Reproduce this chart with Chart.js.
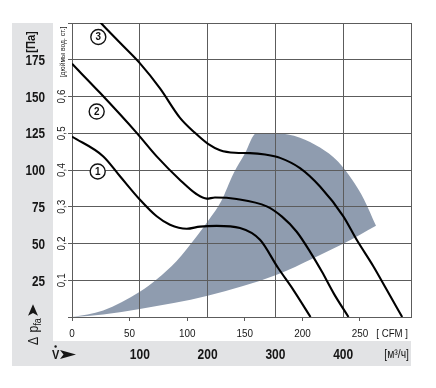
<!DOCTYPE html>
<html><head><meta charset="utf-8">
<script src="https://cdn.jsdelivr.net/npm/chart.js@4.4.1/dist/chart.umd.min.js"></script>
<style>html,body{margin:0;padding:0;background:#fff}canvas{display:block}</style>
</head><body>
<canvas id="c" width="436" height="388"></canvas>
<script>
// ---- data (flow in m³/h, pressure in inch water column) ----
const curve1Flow  = [0, 46.2, 70.8, 100.3, 124.9, 144.5, 169.2, 188.8, 213.4, 247.8, 277.3, 303.8, 326.4, 351.8];
const curve1Press = [0.491, 0.437, 0.383, 0.319, 0.274, 0.251, 0.240, 0.246, 0.248, 0.242, 0.210, 0.134, 0.074, 0];
const curve2Flow  = [0, 41.3, 95.4, 124.9, 159.3, 183.9, 198.7, 210.9, 242.9, 287.2, 309.7, 331.4, 351.0, 368.7, 386.4, 407.8];
const curve2Press = [0.689, 0.610, 0.501, 0.437, 0.373, 0.334, 0.322, 0.325, 0.321, 0.301, 0.273, 0.232, 0.178, 0.123, 0.063, 0];
const curve3Flow  = [40, 70.8, 100.3, 129.8, 159.3, 181.4, 200.6, 218.3, 240.4, 262.5, 284.7, 306.8, 336.3, 365.8, 400.2, 419.9, 444.4, 464.2, 487];
const curve3Press = [0.805, 0.746, 0.690, 0.622, 0.542, 0.501, 0.471, 0.454, 0.447, 0.446, 0.442, 0.433, 0.405, 0.355, 0.274, 0.210, 0.138, 0.074, 0];
// operating range (shaded area): upper and lower outline
const rangeUpperFlow  = [0, 46, 100, 125, 154, 184, 204, 220, 238, 255, 272, 300.9, 336.3, 365.8, 392.3, 413, 430.7, 448.4];
const rangeUpperPress = [0, 0.018, 0.069, 0.103, 0.152, 0.220, 0.270, 0.315, 0.390, 0.445, 0.500, 0.500, 0.488, 0.461, 0.423, 0.374, 0.320, 0.248];
const rangeLowerFlow  = [0, 46, 100, 200, 302, 356, 400, 448.4];
const rangeLowerPress = [0, 0.007, 0.022, 0.058, 0.115, 0.160, 0.199, 0.248];
// curve number markers (data coordinates)
const markerText  = ['1', '2', '3'];
const markerFlow  = [37.9, 36.4, 38.8];
const markerPress = [0.396, 0.559, 0.762];
// axis tick labels
const inchTickValues = [0.1, 0.2, 0.3, 0.4, 0.5, 0.6];
const inchTickLabels = ['0,1', '0,2', '0,3', '0,4', '0,5', '0,6'];
const paTickValues = [25, 50, 75, 100, 125, 150, 175];
const m3hTickValues = [100, 200, 300, 400];
const cfmTickValues = [0, 50, 100, 150, 200, 250];
const PA_PER_INCH = 249.089;
const M3H_PER_CFM = 1.699;

const SANS = "'Liberation Sans', Arial, sans-serif";
const BAND = '#e2e3e5';
const GRID = '#5c5c5c';
const SHADE = '#8f9caf';
const INK = '#161616';

const pts = (xs, ys) => xs.map((x, i) => ({x, y: ys[i]}));

function dart(ctx, x, y, len, half) { // arrow pointing +x
  ctx.beginPath();
  ctx.moveTo(x + len, y);
  ctx.lineTo(x, y - half);
  ctx.lineTo(x + len * 0.22, y);
  ctx.lineTo(x, y + half);
  ctx.closePath();
  ctx.fill();
}
// condensed text: draws text squeezed horizontally by sx
function ctext(ctx, text, x, y, font, align, base, sx, rot) {
  ctx.save();
  ctx.translate(x, y);
  if (rot) ctx.rotate(rot);
  ctx.scale(sx, 1);
  ctx.font = font;
  ctx.textAlign = align;
  ctx.textBaseline = base;
  ctx.fillText(text, 0, 0);
  ctx.restore();
}

const overlay = {
  id: 'overlay',
  beforeDraw(chart) {
    const {ctx, chartArea: ca, scales} = chart;
    const pa = scales.yPa, bot = scales.x;
    ctx.save();
    ctx.fillStyle = BAND;
    ctx.fillRect(pa.left, ca.top, pa.right - pa.left, bot.bottom - ca.top);
    ctx.fillRect(pa.left, bot.top, ca.right - pa.left, bot.bottom - bot.top);
    ctx.restore();
  },
  afterDatasetsDraw(chart) {
    const {ctx, scales} = chart;
    ctx.save();
    markerText.forEach((t, i) => {
      const px = scales.x.getPixelForValue(markerFlow[i]);
      const py = scales.y.getPixelForValue(markerPress[i]);
      ctx.beginPath();
      ctx.arc(px, py, 7.5, 0, Math.PI * 2);
      ctx.fillStyle = '#fff'; ctx.fill();
      ctx.lineWidth = 1.4; ctx.strokeStyle = '#111'; ctx.stroke();
      ctx.fillStyle = '#111';
      ctext(ctx, t, px, py + 0.5, 'bold 11px ' + SANS, 'center', 'middle', 0.9);
    });
    ctx.restore();
  },
  afterDraw(chart) {
    const {ctx, chartArea: ca, scales} = chart;
    const y = scales.y, pa = scales.yPa, bot = scales.x, cfm = scales.xCfm;
    const up = -Math.PI / 2;
    ctx.save();
    ctx.fillStyle = INK;
    // Pa tick labels
    paTickValues.forEach(v => ctext(ctx, String(v), pa.right - 8, pa.getPixelForValue(v) + 2,
      'bold 14px ' + SANS, 'right', 'middle', 0.84));
    // inch tick labels (rotated)
    inchTickValues.forEach((v, i) => ctext(ctx, inchTickLabels[i], y.left + 9, y.getPixelForValue(v),
      '11px ' + SANS, 'center', 'middle', 0.9, up));
    ctext(ctx, '[дюймы вод. ст.]', y.left + 10, ca.top + 29, '8px ' + SANS, 'center', 'middle', 0.85, up);
    // m³/h labels
    m3hTickValues.forEach(v => ctext(ctx, String(v), bot.getPixelForValue(v), 359,
      'bold 15px ' + SANS, 'center', 'alphabetic', 0.8));
    // CFM labels
    cfmTickValues.forEach(v => ctext(ctx, String(v), cfm.getPixelForValue(v), 337,
      '11px ' + SANS, 'center', 'alphabetic', 0.9));
    // [Па]
    ctext(ctx, '[Па]', pa.left + 19, ca.top + 19, 'bold 13px ' + SANS, 'center', 'middle', 0.85, up);
    // Δ p_fa ➤ (rotated)
    ctx.save();
    ctx.translate(pa.left + 26, 345);
    ctx.rotate(up);
    ctx.scale(0.88, 1);
    ctx.textAlign = 'left'; ctx.textBaseline = 'alphabetic';
    ctx.font = '14px ' + SANS;
    ctx.fillText('Δ', 0, 0);
    let w = ctx.measureText('Δ ').width + 1;
    ctx.fillText('p', w, 0);
    w += ctx.measureText('p').width;
    ctx.font = '10px ' + SANS;
    ctx.fillText('fa', w, 3);
    w += ctx.measureText('fa').width + 3;
    dart(ctx, w, -5, 13, 5);
    ctx.restore();
    // V̇ ➤
    ctext(ctx, 'V', 52, 359, 'bold 13px ' + SANS, 'left', 'alphabetic', 0.85);
    ctx.beginPath(); ctx.arc(55.6, 346.5, 1.2, 0, Math.PI * 2); ctx.fill();
    dart(ctx, 60, 354.5, 16, 4.5);
    // units
    ctext(ctx, '[ CFM ]', ca.right - 3, 337, '11px ' + SANS, 'right', 'alphabetic', 0.88);
    ctext(ctx, '[м³/ч]', ca.right - 2, 358, '13px ' + SANS, 'right', 'alphabetic', 0.8);
    ctx.restore();
  }
};

new Chart(document.getElementById('c'), {
  type: 'line',
  data: {
    datasets: [
      {data: pts(curve1Flow, curve1Press), borderColor: '#000', borderWidth: 2.1, order: 0},
      {data: pts(curve2Flow, curve2Press), borderColor: '#000', borderWidth: 2.1, order: 0},
      {data: pts(curve3Flow, curve3Press), borderColor: '#000', borderWidth: 2.1, order: 0},
      {data: pts(rangeUpperFlow, rangeUpperPress), borderWidth: 0, borderColor: 'rgba(0,0,0,0)', backgroundColor: SHADE, fill: '+1', order: 10},
      {data: pts(rangeLowerFlow, rangeLowerPress), borderWidth: 0, borderColor: 'rgba(0,0,0,0)', fill: false, order: 11}
    ]
  },
  options: {
    responsive: false,
    animation: false,
    devicePixelRatio: 1,
    parsing: false,
    elements: {point: {radius: 0, hoverRadius: 0}, line: {cubicInterpolationMode: 'monotone'}},
    layout: {padding: {top: 23, right: 25, bottom: 22, left: 12}},
    plugins: {legend: {display: false}, tooltip: {enabled: false}, filler: {drawTime: 'beforeDraw'}},
    events: [],
    scales: {
      x: {
        type: 'linear', position: 'bottom', weight: 1, min: 0, max: 500,
        afterBuildTicks: s => { s.ticks = [0, ...m3hTickValues, 500].map(v => ({value: v})); },
        ticks: {display: false},
        grid: {color: GRID, lineWidth: 1, drawTicks: false, drawOnChartArea: true},
        border: {display: false},
        afterFit: s => { s.height = 25; }
      },
      xCfm: {
        type: 'linear', position: 'bottom', weight: 0, min: 0, max: 500 / M3H_PER_CFM,
        afterBuildTicks: s => { s.ticks = cfmTickValues.map(v => ({value: v})); },
        ticks: {display: false},
        grid: {color: GRID, drawOnChartArea: false, drawTicks: true, tickLength: 4},
        border: {display: true, color: GRID, width: 1},
        afterFit: s => { s.height = 24; }
      },
      y: {
        type: 'linear', position: 'left', weight: 0, min: 0, max: 0.8,
        ticks: {stepSize: 0.1, display: false},
        grid: {color: GRID, lineWidth: 1, drawTicks: true, tickLength: 4},
        border: {display: true, color: GRID},
        afterFit: s => { s.width = 19; }
      },
      yPa: {
        type: 'linear', position: 'left', weight: 1, min: 0, max: 0.8 * PA_PER_INCH,
        afterBuildTicks: s => { s.ticks = paTickValues.map(v => ({value: v})); },
        ticks: {display: false},
        grid: {display: false, drawTicks: false},
        border: {display: false},
        afterFit: s => { s.width = 41; }
      }
    }
  },
  plugins: [overlay]
});
</script>
</body></html>
